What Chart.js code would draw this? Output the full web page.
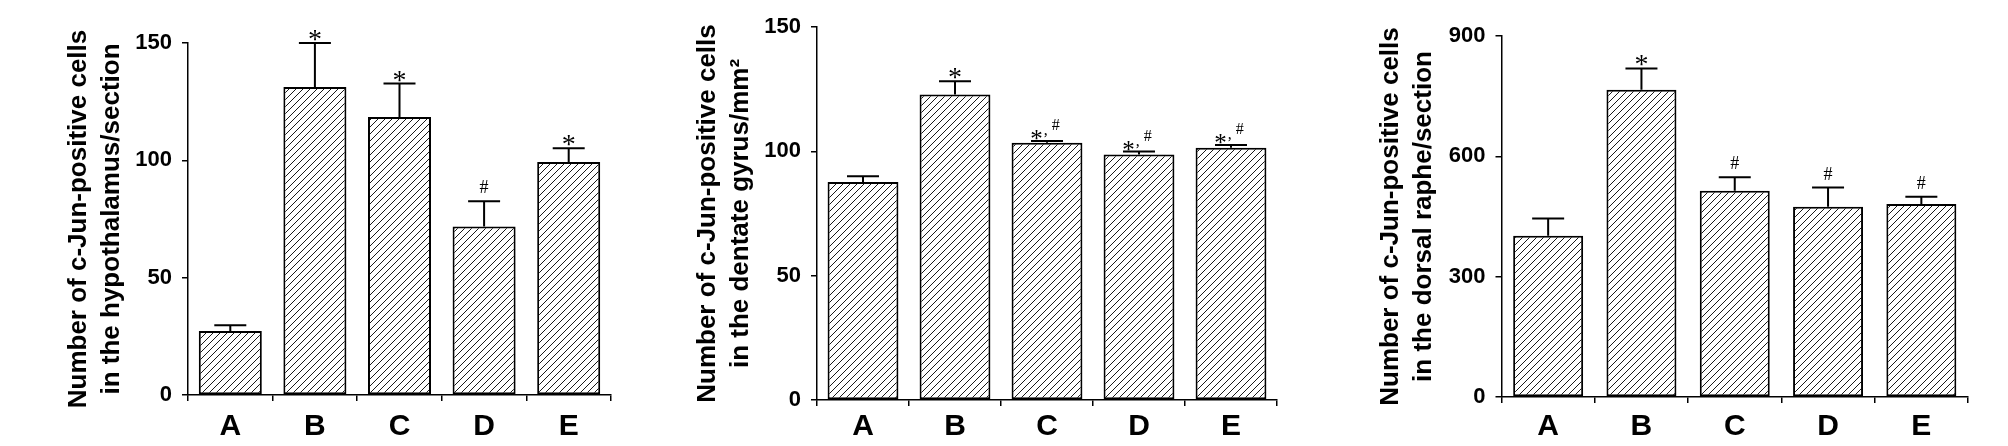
<!DOCTYPE html>
<html>
<head>
<meta charset="utf-8">
<script src="https://cdn.jsdelivr.net/npm/chart.js@4.4.1/dist/chart.umd.min.js"></script>
<style>
  html, body { margin: 0; padding: 0; background: #fff; }
  #wrap { position: relative; width: 2008px; height: 446px; overflow: hidden; }
  canvas { position: absolute; top: 0; }
</style>
</head>
<body>
<div id="wrap">
  <canvas id="c-hypo"    width="670" height="446" style="left:0"></canvas>
  <canvas id="c-dentate" width="670" height="446" style="left:670px"></canvas>
  <canvas id="c-raphe"   width="668" height="446" style="left:1340px"></canvas>
</div>
<script>
// ── Data ─────────────────────────────────────────────────────────────────────
const groups = ['A', 'B', 'C', 'D', 'E'];

const hypoMeans = [27.3, 131.3, 118.5, 71.8, 99.3];
const hypoErrs  = [2.4, 18.7, 14.2, 10.8, 5.8];
const hypoMarks = ['', '*', '*', '#', '*'];
const hypoTicks = [0, 50, 100, 150];

const dentateMeans = [87.7, 122.9, 103.5, 98.7, 101.4];
const dentateErrs  = [2.3, 5.3, 0.7, 1.2, 1.1];
const dentateMarks = ['', '*', '*,#', '*,#', '*,#'];
const dentateTicks = [0, 50, 100, 150];

const rapheMeans = [402, 766, 514, 474, 481];
const rapheErrs  = [43, 53, 34, 48, 18];
const rapheMarks = ['', '*', '#', '#', '#'];
const rapheTicks = [0, 300, 600, 900];

const SANS  = '"Liberation Sans", Arial, Helvetica, sans-serif';
const SERIF = '"Liberation Serif", "Times New Roman", serif';

// diagonal "/" hatch fill
function hatch() {
  const c = document.createElement('canvas');
  c.width = 7; c.height = 7;
  const g = c.getContext('2d');
  g.fillStyle = '#fff';
  g.fillRect(0, 0, 7, 7);
  g.strokeStyle = '#1a1a1a';
  g.lineWidth = 1;
  g.beginPath();
  g.moveTo(0, 7);  g.lineTo(7, 0);
  g.moveTo(-1, 1); g.lineTo(1, -1);
  g.moveTo(6, 8);  g.lineTo(8, 6);
  g.stroke();
  return g.createPattern(c, 'repeat');
}

// SEM bars (upper half only) + significance marks
const errorBars = {
  id: 'errorBars',
  afterDatasetsDraw(chart, args, o) {
    const { ctx } = chart;
    const y = chart.scales.y;
    const meta = chart.getDatasetMeta(0);
    ctx.save();
    ctx.strokeStyle = '#000';
    ctx.lineWidth = 2;
    ctx.fillStyle = '#000';
    meta.data.forEach((bar, i) => {
      const top = y.getPixelForValue(o.means[i]);
      const hi  = y.getPixelForValue(o.means[i] + o.errs[i]);
      ctx.beginPath();
      ctx.moveTo(bar.x, top); ctx.lineTo(bar.x, hi);
      ctx.moveTo(bar.x - 16, hi); ctx.lineTo(bar.x + 16, hi);
      ctx.stroke();

      const mark = o.marks[i];
      if (!mark) return;
      ctx.textBaseline = 'alphabetic';
      if (mark === '*') {
        ctx.font = `28px ${SERIF}`;
        ctx.textAlign = 'center';
        ctx.fillText('*', bar.x, hi + 5);
      } else if (mark === '#') {
        ctx.font = `18px ${SERIF}`;
        ctx.textAlign = 'center';
        ctx.fillText('#', bar.x, hi - 8);
      } else {
        // "*,#" – star, small comma, raised hash
        ctx.textAlign = 'left';
        ctx.font = `25px ${SERIF}`;
        const wStar = ctx.measureText('*').width;
        ctx.font = `16px ${SERIF}`;
        const wComma = ctx.measureText(',').width;
        ctx.font = `16px ${SERIF}`;
        const wHash = ctx.measureText('#').width;
        const x0 = bar.x - (wStar + wComma + wHash + 5) / 2 - 2;
        ctx.font = `25px ${SERIF}`;
        ctx.fillText('*', x0, hi + 6);
        ctx.font = `16px ${SERIF}`;
        ctx.fillText(',', x0 + wStar + 1, hi - 6);
        ctx.fillText('#', x0 + wStar + wComma + 5, hi - 11);
      }
    });
    ctx.restore();
  },
};

function makePanel(id, p) {
  return new Chart(document.getElementById(id), {
    type: 'bar',
    data: {
      labels: groups,
      datasets: [{
        data: p.means,
        backgroundColor: hatch(),
        borderColor: '#000',
        borderWidth: 2,
        borderSkipped: false,
        categoryPercentage: 1,
        barPercentage: p.barPct,
      }],
    },
    options: {
      responsive: false,
      animation: false,
      layout: { padding: { left: p.padLeft, right: p.padRight, top: p.top, bottom: 0 } },
      plugins: {
        legend: { display: false },
        tooltip: { enabled: false },
        errorBars: { means: p.means, errs: p.errs, marks: p.marks },
      },
      scales: {
        x: {
          // labels sit at the same height in all three panels
          ticks: { color: '#000', font: { family: SANS, size: 30, weight: 'bold' }, padding: 409 - p.bottom - 6 },
          grid: { drawOnChartArea: false, tickLength: 6, color: '#000', lineWidth: 1.5, offset: true },
          border: { color: '#000', width: 1.5 },
          afterFit: s => { s.height = 446 - p.bottom; },
        },
        y: {
          min: p.ticks[0],
          max: p.ticks[p.ticks.length - 1],
          afterBuildTicks: s => { s.ticks = p.ticks.map(v => ({ value: v })); },
          ticks: { color: '#000', font: { family: SANS, size: 22, weight: 'bold' }, padding: 10 },
          grid: { drawOnChartArea: false, tickLength: 6, color: '#000', lineWidth: 1.5 },
          border: { color: '#000', width: 1.5 },
          title: {
            display: true,
            text: p.title,
            color: '#000',
            padding: 0,
            font: { family: SANS, size: 26, weight: 'bold', lineHeight: 1.27 },
          },
          afterFit: s => { s.width = p.axisX - p.padLeft; },
        },
      },
    },
    plugins: [errorBars],
  });
}

makePanel('c-hypo', {
  means: hypoMeans, errs: hypoErrs, marks: hypoMarks, ticks: hypoTicks,
  title: ['Number of c-Jun-positive cells', 'in the hypothalamus/section'],
  padLeft: 62.5, axisX: 188, padRight: 59, top: 43, bottom: 395, barPct: 0.745,
});

makePanel('c-dentate', {
  means: dentateMeans, errs: dentateErrs, marks: dentateMarks, ticks: dentateTicks,
  title: ['Number of c-Jun-positive cells', 'in the dentate gyrus/mm²'],
  padLeft: 21.5, axisX: 147, padRight: 63, top: 27, bottom: 400, barPct: 0.77,
});

makePanel('c-raphe', {
  means: rapheMeans, errs: rapheErrs, marks: rapheMarks, ticks: rapheTicks,
  title: ['Number of c-Jun-positive cells', 'in the dorsal raphe/section'],
  padLeft: 34.5, axisX: 161.5, padRight: 40, top: 36, bottom: 397, barPct: 0.75,
});
</script>
</body>
</html>
